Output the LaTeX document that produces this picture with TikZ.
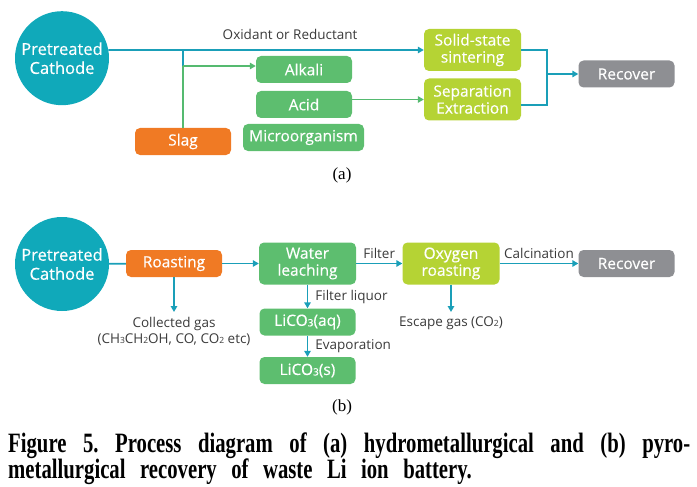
\documentclass[tikz,border=0pt]{standalone}
\usepackage{fontspec}
\setmainfont{Liberation Serif}
\newfontfamily\dfont{Open Sans}
\newfontfamily\bfont[FakeBold=0.4]{Open Sans}
\newfontfamily\capfont[FakeStretch=0.74]{Liberation Serif Bold}
\usetikzlibrary{arrows.meta}
\definecolor{cteal}{HTML}{10A9BA}
\definecolor{cline}{HTML}{1A9FB8}
\definecolor{cgreen}{HTML}{5DBE6F}
\definecolor{cgline}{HTML}{55BA70}
\definecolor{clime}{HTML}{B5D334}
\definecolor{corange}{HTML}{F07A24}
\definecolor{cgray}{HTML}{8E8F93}
\definecolor{ctext}{HTML}{3A3A3A}
\newcommand{\lowsub}[2][8.5]{\raisebox{-0.5pt}{\fontsize{#1}{#1}\selectfont #2}}
\tikzset{
  box/.style={rounded corners=5pt, text=white, inner sep=0pt, align=center,
    font=\bfont\fontsize{15.5}{17}\selectfont},
  onebox/.style={box, minimum height=27pt, minimum width=96pt},
  twobox/.style={box, minimum height=42pt, minimum width=97pt},
  greenbox/.style={onebox, fill=cgreen},
  orangebox/.style={onebox, fill=corange},
  graybox/.style={onebox, fill=cgray},
  limebox/.style={twobox, fill=clime},
  greentwo/.style={twobox, fill=cgreen},
  cathode/.style={circle, fill=cteal, minimum size=94pt, inner sep=0pt, text=white, align=center,
    font=\bfont\fontsize{16.5}{19}\selectfont},
  tl/.style={draw=cline, line width=1.8pt},
  gl/.style={draw=cgline, line width=1.8pt},
  arr/.style={-{Triangle[length=6pt,width=6.5pt]}},
  lbl/.style={text=ctext, font=\dfont\fontsize{13.5}{16}\selectfont, inner sep=1pt},
}
\begin{document}
\begin{tikzpicture}[x=1pt,y=-1pt]
\useasboundingbox (0,0) rectangle (697,487);
% ---------- (a) ----------
\node[cathode] (ca) at (62,58.2) {Pretreated\\Cathode};
\node[limebox] (sint) at (472.5,50) {Solid-state\\sintering};
\node[limebox] (sepx) at (472.5,99.5) {Separation\\Extraction};
\node[greenbox] (alk) at (304,69.5) {Alkali};
\node[greenbox] (acid) at (304,104.5) {Acid};
\node[greenbox, minimum width=121pt] (micro) at (303.5,137.5) {Microorganism};
\node[orangebox] (slag) at (183,141.5) {Slag};
\node[graybox] (reca) at (626.5,74) {Recover};
\coordinate (ja) at (183,50);
\coordinate (jb) at (183,66);
\coordinate (jr) at (547,74);
\draw[tl,arr] (ca.10) -- (sint.west) node[lbl, pos=0.576, above=8pt] (oxl) {Oxidant or Reductant};
\draw[tl] (ja) -- (jb);
\draw[gl] (jb) -- (slag.north);
\draw[gl,arr] (jb) -- (jb -| alk.west);
\draw[gl,arr] (acid.east |- sepx.west) -- (sepx.west);
\draw[tl] (sint.east) -| (jr) |- (sepx.east |- 0,105);
\draw[tl,arr] (jr) -- (reca.west |- jr);
\node[font=\fontsize{17}{19}\selectfont] (la) at (342,175) {(a)};
% ---------- (b) ----------
\node[cathode] (cb) at (62,264) {Pretreated\\Cathode};
\node[orangebox] (roast) at (174,263.5) {Roasting};
\node[greentwo] (water) at (307.5,263.5) {Water\\leaching};
\node[limebox] (oxy) at (451,263.5) {Oxygen\\roasting};
\node[graybox] (recb) at (626.5,263.5) {Recover};
\node[greenbox] (aq) at (307.5,322) {LiCO\lowsub[10]{3}(aq)};
\node[greenbox] (sol) at (307.5,370.5) {LiCO\lowsub[10]{3}(s)};
\node[lbl, align=center] (gas) at (174,331) {Collected gas\\(CH\lowsub{3}CH\lowsub{2}OH, CO, CO\lowsub{2} etc)};
\node[lbl] (esc) at (451,323) {Escape gas (CO\lowsub{2})};
\draw[tl] (cb) -- (roast);
\draw[tl,arr] (roast) -- (water);
\draw[tl,arr] (water) -- (oxy) node[lbl, midway, above=3pt] (fl) {Filter};
\draw[tl,arr] (oxy) -- (recb) node[lbl, midway, above=3pt] (cal) {Calcination};
\draw[tl,arr] (roast.south) -- (roast.south |- 0,312);
\draw[tl,arr] (oxy.south) -- (oxy.south |- 0,312);
\draw[tl,arr] (water.south) -- (aq.north) node[lbl, midway, anchor=west, xshift=6pt] (fq) {Filter liquor};
\draw[tl,arr] (aq.south) -- (sol.north) node[lbl, midway, anchor=west, xshift=6pt] (ev) {Evaporation};
\node[font=\fontsize{17}{19}\selectfont] (lb) at (342,407) {(b)};
% ---------- caption ----------
\node[anchor=base west, text width=682pt, align=justify, inner sep=0pt,
  font=\capfont\fontsize{28}{25}\selectfont] (cap) at (8,452)
  {\frenchspacing\spaceskip=14.5pt plus 6pt minus 6pt\relax
   Figure 5. Process diagram of (a) hydrometallurgical and (b) pyro-\linebreak metallurgical recovery of waste Li ion battery.};
\end{tikzpicture}
\end{document}
